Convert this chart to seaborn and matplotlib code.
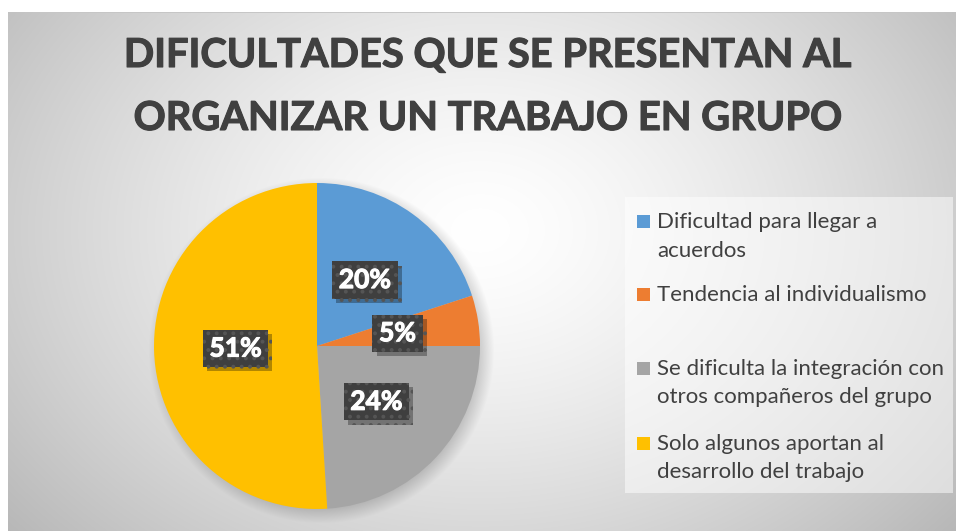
import numpy as np
import matplotlib
matplotlib.use("Agg")
import matplotlib.pyplot as plt
import matplotlib.patheffects as pe
from matplotlib.patches import Rectangle
import seaborn as sns

# ---- data ----
categories = [
    "Dificultad para llegar a\nacuerdos",
    "Tendencia al individualismo",
    "Se dificulta la integración con\notros compañeros del grupo",
    "Solo algunos aportan al\ndesarrollo del trabajo",
]
values = [20, 5, 24, 51]
colors = ["#5B9BD5", "#ED7D31", "#A5A5A5", "#FFC000"]
title_lines = ["DIFICULTADES QUE SE PRESENTAN AL", "ORGANIZAR UN TRABAJO EN GRUPO"]

sns.set_style("white")
plt.rcParams["font.family"] = ["Lato", "DejaVu Sans"]
plt.rcParams["hatch.linewidth"] = 1.6
palette = sns.color_palette(colors)

W, H = 956, 531
fig = plt.figure(figsize=(W / 100, H / 100), dpi=100)

# ---- background gradient ----
bg = fig.add_axes([0, 0, 1, 1])
yy, xx = np.mgrid[0:H, 0:W]
cx, cy = 480, 230
d = np.sqrt(((xx - cx) / 560.0) ** 2 + ((yy - cy) / 420.0) ** 2)
v = 255 - 62 * np.clip(d, 0, 1.2) ** 1.4
img = np.stack([v, v, v], axis=-1) / 255.0
img = np.clip(img, 0, 1)

# pie shadow (soft, offset to lower right)
pcx, pcy, R = 317, 346, 163
ds = np.sqrt((xx - (pcx + 4)) ** 2 + (yy - (pcy + 4)) ** 2)
sh = 0.22 * np.clip((R + 10 - ds) / 20.0, 0, 1)
img = img * (1 - sh[..., None])

# white margins
img[:12, :, :] = 1.0
img[:, :8, :] = 1.0
img[12, 8:, :] = np.minimum(img[12, 8:, :], 0.78)
bg.imshow(img, extent=[0, W, H, 0], aspect="auto", interpolation="bilinear")
bg.set_xlim(0, W)
bg.set_ylim(H, 0)
bg.axis("off")

# ---- title ----
for txt, base in zip(title_lines, [67, 130]):
    fig.text(488.5 / W, 1 - base / H, txt, ha="center", va="baseline",
             fontsize=28.7, fontweight="bold", color="#404040",
             path_effects=[pe.withStroke(linewidth=0.8, foreground="#404040")])

# ---- pie ----
ax = fig.add_axes([(pcx - R) / W, (H - pcy - R) / H, 2 * R / W, 2 * R / H])
wedges, texts, autotexts = ax.pie(
    values, colors=palette, startangle=90, counterclock=False,
    autopct=lambda p: f"{p:.0f}%", pctdistance=0.5,
    wedgeprops=dict(linewidth=0),
    textprops=dict(color="white", fontsize=19, fontweight="bold"),
)
ax.set_xlim(-1, 1)
ax.set_ylim(-1, 1)
ax.set_aspect("equal")
ax.axis("off")

for t in autotexts:
    t.set_ha("center")
    t.set_va("center")
    t.set_zorder(5)
    t.set_path_effects([pe.withStroke(linewidth=0.8, foreground="white")])
    t.set_bbox(dict(boxstyle="square,pad=0.25", facecolor="#3f3f3f",
                    edgecolor="#555555", hatch="..", linewidth=0))
    t.get_bbox_patch().set_path_effects([
        pe.SimplePatchShadow(offset=(3, -3), shadow_rgbFace="black", alpha=0.3),
        pe.Normal(),
    ])

# ---- legend ----
fig.patches.append(Rectangle((625 / W, 1 - 493 / H), (953 - 625) / W, (493 - 197) / H,
                             transform=fig.transFigure, facecolor="white",
                             alpha=0.5, edgecolor="none", zorder=1))
baselines = [[228, 257], [301], [375, 403], [450, 478]]
for cat, col, bl in zip(categories, palette, baselines):
    lines = cat.split("\n")
    fig.patches.append(Rectangle((637 / W, 1 - bl[0] / H), 13 / W, 13 / H,
                                 transform=fig.transFigure, facecolor=col,
                                 edgecolor="none", zorder=2))
    for ln, b in zip(lines, bl):
        fig.text(657 / W, 1 - b / H, ln, ha="left", va="baseline",
                 fontsize=16.0, color="#404040", zorder=3)

fig.savefig("out.png", dpi=100)
